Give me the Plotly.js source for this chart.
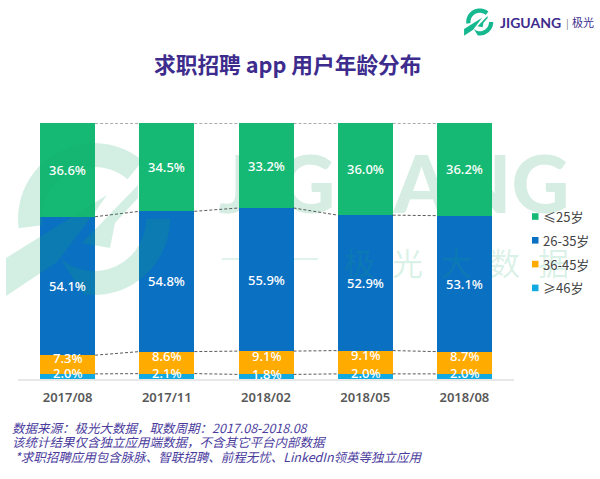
<!DOCTYPE html>
<html><head><meta charset="utf-8">
<script src="https://cdn.plot.ly/plotly-3.0.0.min.js"></script>
<style>html,body{margin:0;padding:0;background:#fff}#c{width:600px;height:479px}</style>
</head><body><div id="c"></div>
<script>
const categories=['2017/08','2017/11','2018/02','2018/05','2018/08'];
const age46=[2.0,2.1,1.8,2.0,2.0];
const age36=[7.3,8.6,9.1,9.1,8.7];
const age26=[54.1,54.8,55.9,52.9,53.1];
const age25=[36.6,34.5,33.2,36.0,36.2];
const seriesNames=['≤25岁','26-35岁','36-45岁','≥46岁'];
const seriesColors=['#16b973','#0a70c2','#ffab00','#12a9e0'];
const titleText='求职招聘 app 用户年龄分布';
const notes=['数据来源：极光大数据，取数周期：2017.08-2018.08','该统计结果仅含独立应用端数据，不含其它平台内部数据',' *求职招聘应用包含脉脉、智联招聘、前程无忧、LinkedIn领英等独立应用'];
const wmChars=['极','光','大','数','据'];

const W=600,H=479,L=18,R=514,T=123,B=379;
const cjk='"Noto Sans CJK SC","Noto Sans",sans-serif';
const latin='"Noto Sans","Noto Sans CJK SC",sans-serif';
const X=p=>(p-L)/(R-L), Y=p=>(B-p)/(B-T);
const stack=[[age46,3],[age36,2],[age26,1],[age25,0]];
const halfBar=55/99.2/2;
const wmSolid='#d5ede2';
const wm='rgba(22,170,110,0.19)';

// large watermark word lives on the base subplot, so the bars (overlay subplot) cover it
const traces=[
  {type:'scatter',mode:'text',x:[394],y:[193],text:['JIGUANG'],textposition:'middle center',cliponaxis:false,showlegend:false,hoverinfo:'skip',xaxis:'x',yaxis:'y',textfont:{family:'Lato,"Open Sans",sans-serif',size:80,color:wmSolid,weight:900}}
].concat(stack.map(([v,i])=>({type:'bar',x:categories,y:v,name:seriesNames[i],marker:{color:seriesColors[i],line:{width:0}},hoverinfo:'x+y+name',xaxis:'x2',yaxis:'y2'})));

const anns=[],shapes=[];
const para=(x,y,text,size,color,extra)=>anns.push(Object.assign({xref:'paper',yref:'paper',x:X(x),y:Y(y),text,showarrow:false,xanchor:'left',yanchor:'middle',font:{family:cjk,size,color}},extra||{}));

// pale watermark characters show through the bars, so they are drawn as an overlay
wmChars.forEach((c,i)=>anns.push({xref:'paper',yref:'paper',x:X(359+i*48.5),y:Y(261),xanchor:'center',yanchor:'middle',text:c,showarrow:false,font:{family:cjk,size:31,color:'rgba(22,170,110,0.17)'}}));

// data labels
const labelShift=[3,7,0,0];
stack.forEach(([v,i],s)=>{
  categories.forEach((c,k)=>{
    let base=0; for(let j=0;j<s;j++) base+=stack[j][0][k];
    anns.push({x:c,y:base+v[k]/2,xref:'x2',yref:'y2',text:v[k].toFixed(1)+'%',showarrow:false,yshift:labelShift[s],font:{family:latin,size:13,color:'#fff',weight:500}});
  });
});
// connectors
let cum=[0,0,0,0,0];
stack.forEach(([v])=>{
  cum=cum.map((c,k)=>c+v[k]);
  for(let k=0;k<categories.length-1;k++){
    shapes.push({type:'line',xref:'x2',yref:'y2',x0:k+halfBar,x1:k+1-halfBar,y0:cum[k],y1:cum[k+1],line:{color:'#5a5a5a',width:1,dash:'3px,2px'},layer:'above'});
  }
});
// legend
seriesNames.forEach((n,i)=>{
  const y=216.5+i*23.8;
  shapes.push({type:'rect',xref:'paper',yref:'paper',x0:X(532),x1:X(538.5),y0:Y(y-3.3),y1:Y(y+3.3),fillcolor:seriesColors[i],line:{width:0}});
  para(541,y,n,13,'#444');
});
// title / footer
anns.push({xref:'paper',yref:'paper',x:X(287),y:Y(63),text:'<b>'+titleText+'</b>',showarrow:false,xanchor:'center',yanchor:'middle',font:{family:cjk,size:21.7,color:'#3d2c8d'}});
notes.forEach((t,i)=>para(10,427+i*14.6,t,12.5,'#4b3c9e',{font:{family:cjk,size:12.5,color:'#4b3c9e',style:'italic'}}));

// brand mark polygons, unit = watermark pixels
function ring(r,a0,a1){const o=[];const n=24;for(let i=0;i<=n;i++){const a=(a0+(a1-a0)*i/n)*Math.PI/180;o.push([94+r*Math.cos(a),219-r*Math.sin(a)]);}return o;}
const mark=[
  ring(76,187,50).concat(ring(52,50,187)),
  [[6,258],[107,195],[95,212],[57,262],[6,296]],
  ring(52,230,360).concat(ring(76,360,262)),
  [[82,243],[138,185],[138,198],[115,223],[110,248]]
];
function addMark(s,dx,dy,fill,layer){
  mark.forEach(poly=>{
    const d=poly.map((p,i)=>(i?'L':'M')+X(p[0]*s+dx).toFixed(5)+','+Y(p[1]*s+dy).toFixed(5)).join('')+'Z';
    shapes.push({type:'path',xref:'paper',yref:'paper',path:d,fillcolor:fill,line:{width:0},layer});
  });
}
addMark(1,0,0,wm,'above');
addMark(0.178,463,-17,'#16b88f','above');
shapes.push({type:'line',xref:'paper',yref:'paper',x0:X(222),x1:X(318),y0:Y(259),y1:Y(259),line:{color:wm,width:1.5},layer:'below'});
// top-right brand text
para(498,22,'<b>JIGUANG</b>',14,'#3d2c8d',{font:{family:'Lato,"Open Sans",sans-serif',size:14,color:'#3d2c8d'}});
para(564,22,'|',10,'#777');
para(570,22,'极光',11,'#3d2c8d');

Plotly.newPlot('c',traces,{
  width:W,height:H,barmode:'stack',bargap:1-55/99.2,showlegend:false,
  margin:{l:L,r:W-R,t:T,b:H-B,pad:0},paper_bgcolor:'#fff',plot_bgcolor:'rgba(0,0,0,0)',
  font:{family:cjk},
  xaxis:{range:[L,R],visible:false,fixedrange:true},
  yaxis:{range:[B,T],visible:false,fixedrange:true},
  xaxis2:{overlaying:'x',anchor:'y2',type:'category',categoryorder:'array',categoryarray:categories,range:[-0.5,4.5],showgrid:false,zeroline:false,showline:true,linecolor:'#e8e8e8',linewidth:1.5,ticks:'',ticklabelstandoff:6,tickfont:{family:latin,size:13,color:'#595959',weight:600}},
  yaxis2:{overlaying:'y',anchor:'x2',range:[0,100],visible:false,fixedrange:true},
  annotations:anns,shapes
},{displayModeBar:false,staticPlot:true});
</script></body></html>
